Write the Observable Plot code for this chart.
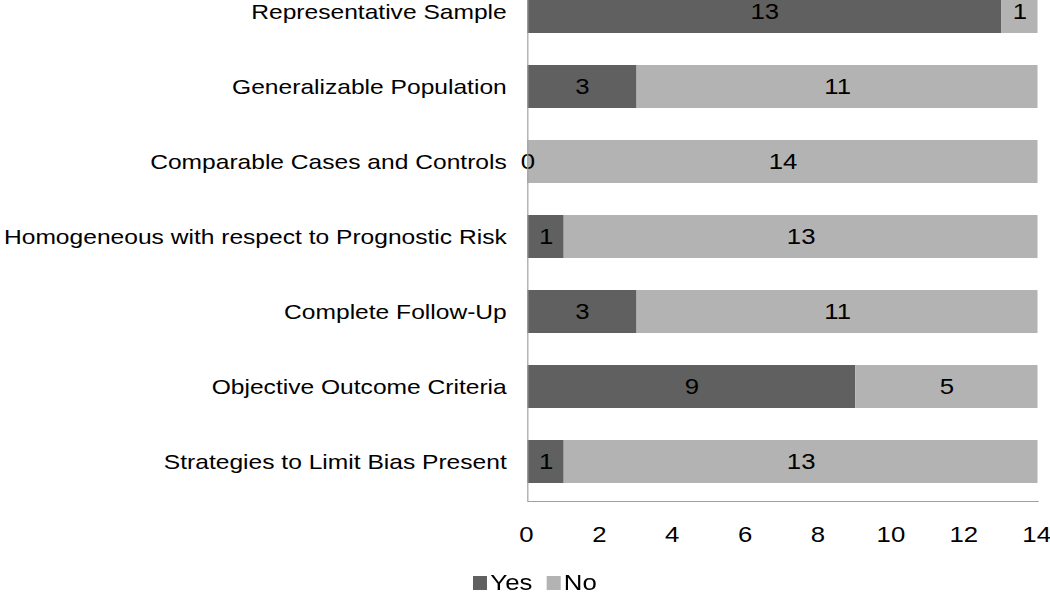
<!DOCTYPE html>
<html><head><meta charset="utf-8">
<script src="https://cdn.jsdelivr.net/npm/d3@7"></script>
<script src="https://cdn.jsdelivr.net/npm/@observablehq/plot@0.6"></script>
<style>
html,body{margin:0;padding:0;background:#fff;overflow:hidden}
#wrap{position:relative;width:897px;height:593px;transform:scaleX(1.1706);transform-origin:0 0;font-family:"Liberation Sans",Arial,sans-serif;}
#legend{position:absolute;left:404px;top:572px;font-size:22px;line-height:22px;white-space:nowrap;color:#000}
.sw{display:inline-block;width:12.4px;height:14px;margin-right:2.5px}
.item{display:inline-block;margin-right:12px}
</style></head><body><div id="wrap"><div id="chart"></div><div id="legend"></div></div>
<script>
const categories = [
  "Representative Sample",
  "Generalizable Population",
  "Comparable Cases and Controls",
  "Homogeneous with respect to Prognostic Risk",
  "Complete Follow-Up",
  "Objective Outcome Criteria",
  "Strategies to Limit Bias Present"
];
const series = ["Yes", "No"];
const yesValues = [13, 3, 0, 1, 3, 9, 1];
const noValues = [1, 11, 14, 13, 11, 5, 13];
const colors = ["#606060", "#b3b3b3"];
const xTicks = [0, 2, 4, 6, 8, 10, 12, 14];

const rows = [];
categories.forEach((c, i) => {
  rows.push({category: c, series: "Yes", value: yesValues[i]});
  rows.push({category: c, series: "No", value: noValues[i]});
});

const chart = Plot.plot({
  width: 897, height: 555,
  marginLeft: 450.4, marginRight: 10.7, marginTop: 0, marginBottom: 54,
  style: {fontFamily: '"Liberation Sans", Arial, sans-serif', fontSize: "22px", color: "#000", background: "#fff", overflow: "hidden"},
  x: {domain: [0, 14], label: null},
  y: {domain: categories, range: [-29, 501], paddingInner: 0.433, paddingOuter: 0.2165, label: null},
  color: {domain: series, range: colors},
  marks: [
    Plot.barX(rows, Plot.stackX({x: "value", y: "category", fill: "series", z: "series"})),
    Plot.text(rows, Plot.stackX({x: "value", y: "category", z: "series", text: d => String(d.value), fill: "#000", fontSize: 22})),
    Plot.ruleX([0], {stroke: "#a0a0a0"}),
    Plot.frame({anchor: "bottom", stroke: "#a0a0a0"}),
    Plot.axisX({ticks: xTicks, tickSize: 0, tickPadding: 25, fontSize: 22, dx: -1.2, label: null}),
    Plot.axisY({tickSize: 0, tickPadding: 18, fontSize: 21, label: null})
  ]
});
document.getElementById("chart").appendChild(chart);

const legend = document.getElementById("legend");
series.forEach((s, i) => {
  const item = document.createElement("span");
  item.className = "item";
  const sw = document.createElement("span");
  sw.className = "sw";
  sw.style.background = colors[i];
  item.appendChild(sw);
  item.appendChild(document.createTextNode(s));
  legend.appendChild(item);
});
</script></body></html>
